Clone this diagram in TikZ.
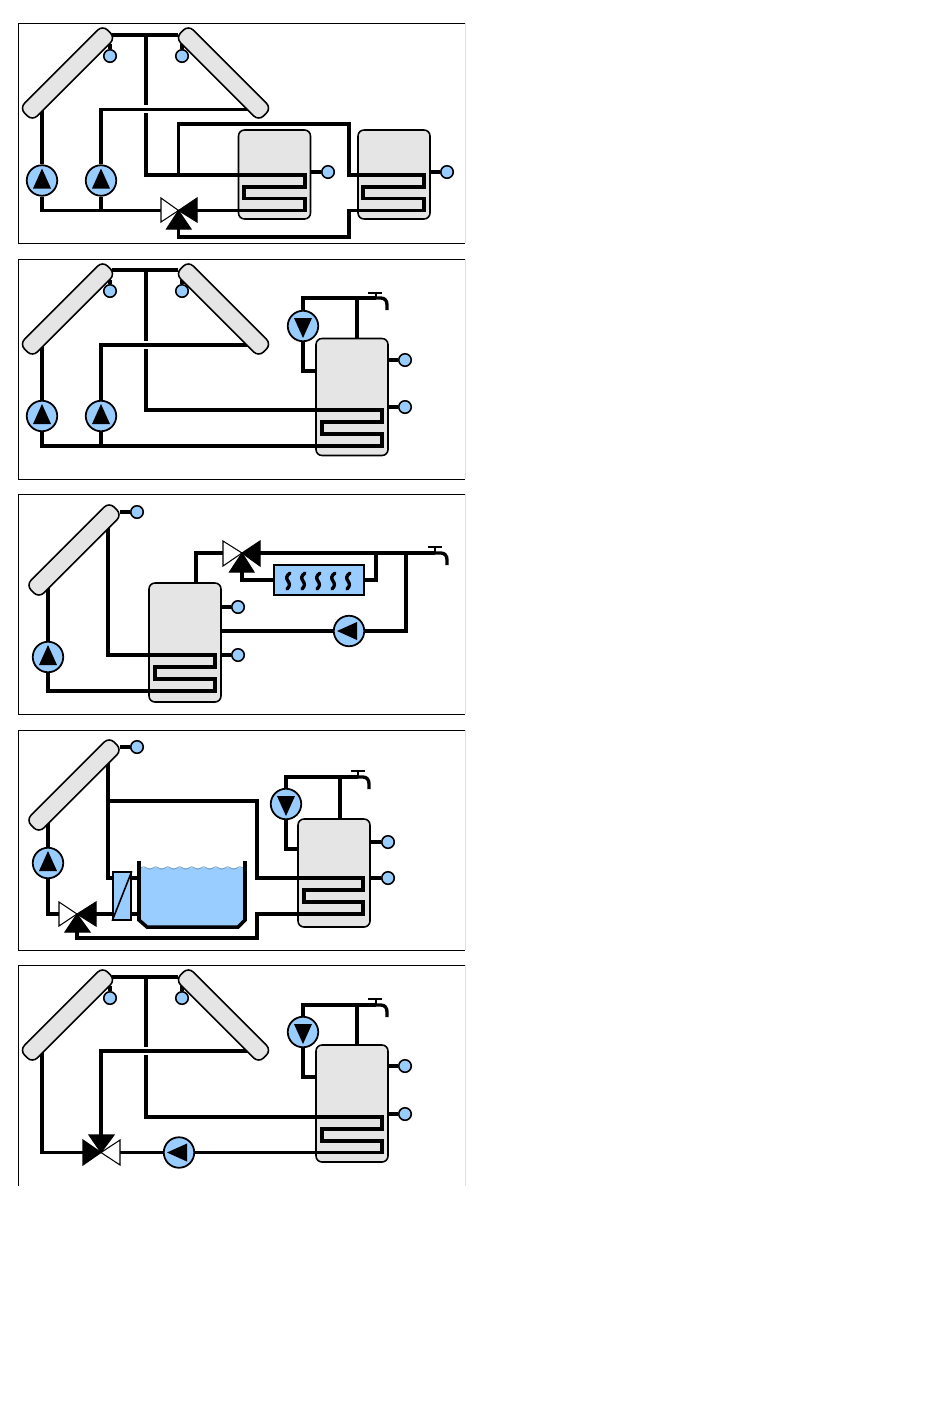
\documentclass[tikz,border=0pt]{standalone}
\usetikzlibrary{decorations.pathmorphing}
\definecolor{tankgray}{HTML}{E5E5E5}
\definecolor{partblue}{HTML}{99CCFF}
\definecolor{wavecol}{HTML}{6F9CCB}
\tikzset{
  frameline/.style={line width=0.55pt},
  frameedge/.style={line width=0.55pt,draw=black!12},
  pipe/.style={line width=1.9pt},
  widepipe/.style={line width=2.6pt},
  stub/.style={line width=1.9pt},
  collector/.style={draw,fill=tankgray,line width=0.9pt,rectangle,rounded corners=0.14cm,minimum width=2.35cm,minimum height=0.36cm,inner sep=0pt},
  tank/.style={draw,fill=tankgray,line width=0.9pt,rectangle,rounded corners=0.12cm,minimum width=1.44cm,inner sep=0pt},
  sensor/.style={draw,fill=partblue,line width=0.9pt,circle,minimum size=0.25cm,inner sep=0pt},
  pump/.style={draw,fill=partblue,line width=1pt,circle,minimum size=0.61cm,inner sep=0pt},
  panel/.style={draw,fill=partblue,line width=0.9pt,rectangle,inner sep=0pt},
  valveopen/.style={draw,fill=white,line width=0.6pt},
  valveshut/.style={draw,fill=black,line width=0.6pt},
  squig/.style={line width=1.9pt,line cap=round},
  tapline/.style={line width=1.2pt}
}
\begin{document}
\begin{tikzpicture}[x=0.02cm,y=-0.02cm]
\useasboundingbox[fill=white] (0,0) rectangle (950,1420);

\draw[frameedge] (465,23) -- (465,243);
\draw[frameline] (465,23) -- (18,23) -- (18,243) -- (465,243);
\node[tank,minimum height=1.78cm] (tankAa) at (274.5,174.5) {};
\node[tank,minimum height=1.78cm] (tankAb) at (394,174.5) {};
\node[pump] (pumpAa) at (42,180.5) {};
\node[pump] (pumpAb) at (101,180.5) {};
\node[sensor] (senAa) at (110,56) {};
\node[sensor] (senAb) at (182,56) {};
\node[sensor] (senAc) at (328,172) {};
\node[sensor] (senAd) at (447,172) {};
\coordinate (topAa) at (112,35);
\coordinate (topAb) at (178,35);
\coordinate (topAc) at (146,35);
\coordinate (rowAa) at (146,175);
\coordinate (rowAb) at (178.5,175);
\coordinate (baseAa) at (42,210.5);
\coordinate (baseAb) at (101,210.5);
\coordinate (portAl) at (161,210.5);
\coordinate (portAr) at (197,210.5);
\coordinate (portAb) at (178.5,229);
\draw[pipe] (topAa) -- (topAb);
\draw[pipe] (topAc) -- (146,105);
\draw[pipe] (146,113) -- (rowAa) -- (305,175) -- (305,187) -- (244,187) -- (244,198.5) -- (305,198.5) -- (305,210.5) -- (portAr);
\draw[pipe] (248,109.5) -- (101,109.5) -- (pumpAb.north);
\draw[pipe] (42,110) -- (pumpAa.north);
\draw[pipe] (pumpAa.south) -- (baseAa) -- (portAl);
\draw[pipe] (pumpAb.south) -- (baseAb);
\draw[pipe] (rowAb) -- (178.5,124) -- (349,124) -- (349,175) -- (424,175) -- (424,187) -- (363,187) -- (363,198.5) -- (424,198.5) -- (424,210.5) -- (349,210.5) -- (349,237) -- (178.5,237) -- (portAb);
\draw[stub] (110,44) -- (senAa.north);
\draw[stub] (182,44) -- (senAb.north);
\draw[stub] (tankAa.east |- senAc) -- (senAc.west);
\draw[stub] (tankAb.east |- senAd) -- (senAd.west);
\node[collector,rotate=45] (collAa) at (67.5,73) {};
\node[collector,rotate=-45] (collAb) at (223.5,73) {};
\draw[valveopen] (161,198) -- (161,222) -- (178.5,210.5) -- cycle;
\draw[valveshut] (197,198) -- (197,222) -- (178.5,210.5) -- cycle;
\draw[valveshut] (166.5,229) -- (191,229) -- (178.5,210.5) -- cycle;
\fill (pumpAa) +(0,-12) -- +(9,8) -- +(-9,8) -- cycle;
\fill (pumpAb) +(0,-12) -- +(9,8) -- +(-9,8) -- cycle;

\draw[frameedge] (465,259) -- (465,479);
\draw[frameline] (465,259) -- (18,259) -- (18,479) -- (465,479);
\node[tank,minimum height=2.34cm] (tankB) at (352,397) {};
\node[pump] (pumpBa) at (42,416) {};
\node[pump] (pumpBb) at (101,416) {};
\node[pump] (pumpBc) at (303,326) {};
\node[sensor] (senBa) at (110,291) {};
\node[sensor] (senBb) at (182,291) {};
\node[sensor] (senBc) at (405,360) {};
\node[sensor] (senBd) at (405,407) {};
\coordinate (topBa) at (112,270);
\coordinate (topBb) at (178,270);
\coordinate (topBc) at (146,270);
\coordinate (baseBa) at (42,446);
\coordinate (baseBb) at (101,446);
\coordinate (feedB) at (357,298);
\coordinate (tapB) at (376,298);
\draw[pipe] (topBa) -- (topBb);
\draw[pipe] (topBc) -- (146,341);
\draw[pipe] (146,349) -- (146,410) -- (382,410) -- (382,422) -- (322,422) -- (322,434) -- (382,434) -- (382,446) -- (baseBa) -- (pumpBa.south);
\draw[pipe] (248,345) -- (101,345) -- (pumpBb.north);
\draw[pipe] (42,346) -- (pumpBa.north);
\draw[pipe] (pumpBb.south) -- (baseBb);
\draw[pipe] (pumpBc.north) -- (303,298) -- (feedB) -- (tapB);
\draw[pipe] (feedB) -- (feedB |- tankB.north);
\draw[pipe] (pumpBc.south) -- (303,371) -- (tankB.west |- 303,371);
\draw[pipe] (tapB) -- (381,298) .. controls (385,298) and (387,301) .. (387,305) -- (387,310);
\draw[tapline] (tapB) -- (376,293);
\draw[tapline] (368,293) -- (382,293);
\draw[stub] (110,280) -- (senBa.north);
\draw[stub] (182,280) -- (senBb.north);
\draw[stub] (tankB.east |- senBc) -- (senBc.west);
\draw[stub] (tankB.east |- senBd) -- (senBd.west);
\node[collector,rotate=45] (collBa) at (67.5,309) {};
\node[collector,rotate=-45] (collBb) at (223.5,309) {};
\fill (pumpBa) +(0,-12) -- +(9,8) -- +(-9,8) -- cycle;
\fill (pumpBb) +(0,-12) -- +(9,8) -- +(-9,8) -- cycle;
\fill (pumpBc) +(0,12) -- +(9,-8) -- +(-9,-8) -- cycle;

\draw[frameedge] (465,494) -- (465,714);
\draw[frameline] (465,494) -- (18,494) -- (18,714) -- (465,714);
\node[tank,minimum height=2.38cm] (tankC) at (185,642.5) {};
\node[panel,minimum width=1.8cm,minimum height=0.6cm] (radC) at (319,580) {};
\node[pump] (pumpCa) at (48,657) {};
\node[pump] (pumpCb) at (349,631) {};
\node[sensor] (senCa) at (137,512) {};
\node[sensor] (senCb) at (238,607) {};
\node[sensor] (senCc) at (238,655) {};
\coordinate (portCl) at (223,553);
\coordinate (portCr) at (260,553);
\coordinate (portCb) at (242,572);
\coordinate (branchCa) at (376,553);
\coordinate (branchCb) at (406,553);
\coordinate (tapC) at (435,553);
\draw[pipe] (108,527) -- (108,655) -- (215,655) -- (215,667) -- (155,667) -- (155,679) -- (215,679) -- (215,691) -- (48,691) -- (pumpCa.south);
\draw[pipe] (48,588) -- (pumpCa.north);
\draw[pipe] (196,583) -- (196,553) -- (portCl);
\draw[pipe] (portCr) -- (branchCa) -- (branchCb) -- (tapC);
\draw[pipe] (branchCa) -- (376,580) -- (radC.east);
\draw[pipe] (radC.west) -- (242,580) -- (portCb);
\draw[pipe] (branchCb) -- (406,631) -- (pumpCb.east);
\draw[pipe] (pumpCb.west) -- (tankC.east |- pumpCb);
\draw[pipe] (tapC) -- (441,553) .. controls (445,553) and (447,556) .. (447,560) -- (447,565);
\draw[tapline] (tapC) -- (435,547);
\draw[tapline] (428,547) -- (442,547);
\draw[squig] (290,573) .. controls (286,576) and (286,578) .. (288,581) .. controls (290,584) and (290,586) .. (287,589);
\draw[squig] (305,573) .. controls (301,576) and (301,578) .. (303,581) .. controls (305,584) and (305,586) .. (302,589);
\draw[squig] (320,573) .. controls (316,576) and (316,578) .. (318,581) .. controls (320,584) and (320,586) .. (317,589);
\draw[squig] (335,573) .. controls (331,576) and (331,578) .. (333,581) .. controls (335,584) and (335,586) .. (332,589);
\draw[squig] (350,573) .. controls (346,576) and (346,578) .. (348,581) .. controls (350,584) and (350,586) .. (347,589);
\draw[stub] (120,512) -- (senCa.west);
\draw[stub] (tankC.east |- senCb) -- (senCb.west);
\draw[stub] (tankC.east |- senCc) -- (senCc.west);
\node[collector,rotate=45] (collC) at (74,550) {};
\draw[valveopen] (223,541) -- (223,566) -- (242,553) -- cycle;
\draw[valveshut] (260,541) -- (260,566) -- (242,553) -- cycle;
\draw[valveshut] (229.5,572) -- (254,572) -- (242,553) -- cycle;
\fill (pumpCa) +(0,-12) -- +(9,8) -- +(-9,8) -- cycle;
\fill (pumpCb) +(-12,0) -- +(8,-9) -- +(8,9) -- cycle;

\draw[frameedge] (465,730) -- (465,950);
\draw[frameline] (465,730) -- (18,730) -- (18,950) -- (465,950);
\node[tank,minimum height=2.16cm] (tankD) at (334,873) {};
\node[panel,minimum width=0.36cm,minimum height=0.96cm] (hxD) at (122,896) {};
\node[pump] (pumpDa) at (48,863) {};
\node[pump] (pumpDb) at (286,804) {};
\node[sensor] (senDa) at (137,747) {};
\node[sensor] (senDb) at (388,842) {};
\node[sensor] (senDc) at (388,878) {};
\coordinate (portDl) at (59,914);
\coordinate (portDr) at (96,914);
\coordinate (portDb) at (77,932);
\coordinate (branchD) at (108,801);
\coordinate (feedD) at (340,777);
\coordinate (tapD) at (358,777);
\fill[partblue] (139,868) -- (245,868) -- (245,920) -- (238,927) -- (147,927) -- (139,920) -- cycle;
\draw[line width=0.45pt,draw=wavecol,decorate,decoration={snake,segment length=0.24cm,amplitude=0.025cm}] (140,868) -- (244,868);
\draw[line width=2pt] (139,861) -- (139,920) -- (147,927) -- (238,927) -- (245,920) -- (245,861);
\draw[pipe] (108,762) -- (branchD) -- (108,878) -- (hxD.west |- 108,878);
\draw[pipe] (branchD) -- (257,801) -- (257,878) -- (363,878) -- (363,890) -- (304,890) -- (304,902) -- (363,902) -- (363,914) -- (257,914) -- (257,938) -- (77,938) -- (portDb);
\draw[pipe] (48,823) -- (pumpDa.north);
\draw[pipe] (pumpDa.south) -- (48,914) -- (portDl);
\draw[pipe] (portDr) -- (hxD.west |- portDr);
\draw[pipe] (hxD.east |- 131,878) -- (139,878);
\draw[pipe] (hxD.east |- 131,914) -- (139,914);
\draw[line width=0.9pt] (hxD.south west) -- (hxD.north east);
\draw[pipe] (pumpDb.north) -- (286,777) -- (feedD) -- (tapD);
\draw[pipe] (feedD) -- (feedD |- tankD.north);
\draw[pipe] (pumpDb.south) -- (286,849) -- (tankD.west |- 286,849);
\draw[pipe] (tapD) -- (363,777) .. controls (367,777) and (369,780) .. (369,784) -- (369,789);
\draw[tapline] (tapD) -- (358,771);
\draw[tapline] (351,771) -- (365,771);
\draw[stub] (120,747) -- (senDa.west);
\draw[stub] (tankD.east |- senDb) -- (senDb.west);
\draw[stub] (tankD.east |- senDc) -- (senDc.west);
\node[collector,rotate=45] (collD) at (74,785) {};
\draw[valveopen] (59,902) -- (59,926) -- (77,914) -- cycle;
\draw[valveshut] (96,902) -- (96,926) -- (77,914) -- cycle;
\draw[valveshut] (65,932) -- (90,932) -- (77,914) -- cycle;
\fill (pumpDa) +(0,-12) -- +(9,8) -- +(-9,8) -- cycle;
\fill (pumpDb) +(0,12) -- +(9,-8) -- +(-9,-8) -- cycle;

\draw[frameedge] (465,965) -- (465,1186);
\draw[frameline] (465,965) -- (18,965) -- (18,1186);
\node[tank,minimum height=2.34cm] (tankE) at (352,1103.5) {};
\node[pump] (pumpEa) at (179,1152.5) {};
\node[pump] (pumpEb) at (303,1032) {};
\node[sensor] (senEa) at (110,998) {};
\node[sensor] (senEb) at (182,998) {};
\node[sensor] (senEc) at (405,1066) {};
\node[sensor] (senEd) at (405,1114) {};
\coordinate (topEa) at (112,977);
\coordinate (topEb) at (178,977);
\coordinate (topEc) at (146,977);
\coordinate (portEl) at (83,1152.5);
\coordinate (portEr) at (120,1152.5);
\coordinate (portEt) at (101,1135);
\coordinate (feedE) at (357,1005);
\coordinate (tapE) at (376,1005);
\draw[pipe] (topEa) -- (topEb);
\draw[pipe] (topEc) -- (146,1047);
\draw[pipe] (146,1055) -- (146,1117) -- (382,1117) -- (382,1129) -- (322,1129) -- (322,1141) -- (382,1141) -- (382,1152.5) -- (pumpEa.east);
\draw[pipe] (pumpEa.west) -- (portEr);
\draw[widepipe] (248,1051) -- (101,1051) -- (portEt);
\draw[pipe] (42,1052) -- (42,1152.5) -- (portEl);
\draw[pipe] (pumpEb.north) -- (303,1005) -- (feedE) -- (tapE);
\draw[pipe] (feedE) -- (feedE |- tankE.north);
\draw[pipe] (pumpEb.south) -- (303,1077) -- (tankE.west |- 303,1077);
\draw[pipe] (tapE) -- (381,1005) .. controls (385,1005) and (387,1008) .. (387,1012) -- (387,1017);
\draw[tapline] (tapE) -- (376,999);
\draw[tapline] (368,999) -- (382,999);
\draw[stub] (110,986) -- (senEa.north);
\draw[stub] (182,986) -- (senEb.north);
\draw[stub] (tankE.east |- senEc) -- (senEc.west);
\draw[stub] (tankE.east |- senEd) -- (senEd.west);
\node[collector,rotate=45] (collEa) at (67.5,1015) {};
\node[collector,rotate=-45] (collEb) at (223.5,1015) {};
\draw[valveshut] (83,1140) -- (83,1165) -- (101,1152.5) -- cycle;
\draw[valveopen] (120,1140) -- (120,1165) -- (101,1152.5) -- cycle;
\draw[valveshut] (89,1135) -- (114,1135) -- (101,1152.5) -- cycle;
\fill (pumpEa) +(-12,0) -- +(8,-9) -- +(8,9) -- cycle;
\fill (pumpEb) +(0,12) -- +(9,-8) -- +(-9,-8) -- cycle;
\end{tikzpicture}
\end{document}
